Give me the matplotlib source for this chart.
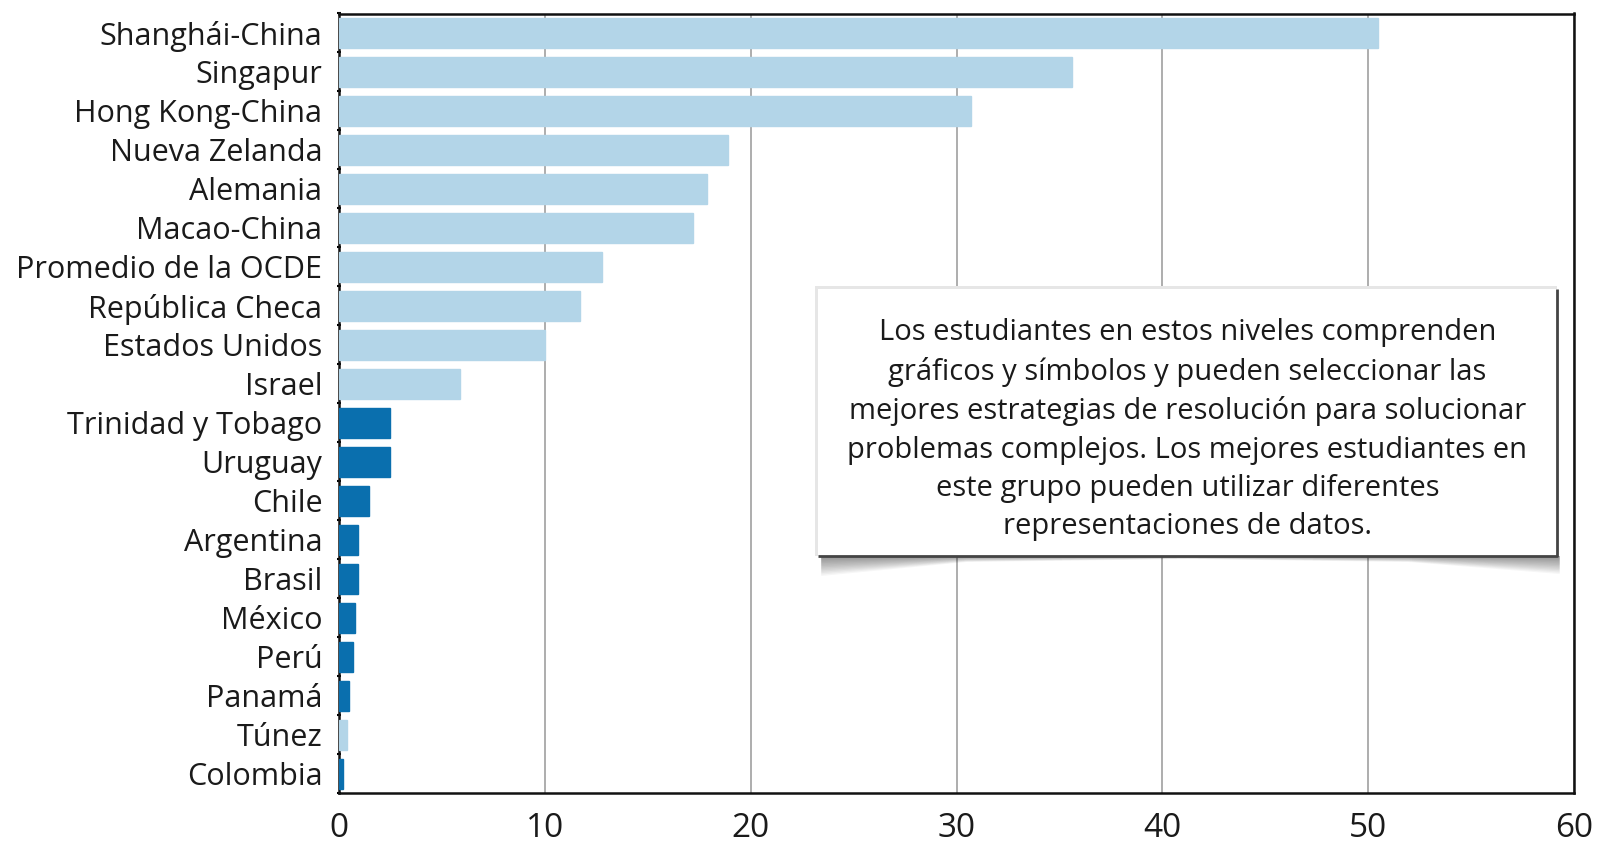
import matplotlib.pyplot as plt
import numpy as np
from matplotlib.patches import Rectangle, Polygon

plt.rcParams['font.family'] = ['Open Sans', 'DejaVu Sans']

paises = ['Shanghái-China', 'Singapur', 'Hong Kong-China', 'Nueva Zelanda', 'Alemania',
          'Macao-China', 'Promedio de la OCDE', 'República Checa', 'Estados Unidos', 'Israel',
          'Trinidad y Tobago', 'Uruguay', 'Chile', 'Argentina', 'Brasil', 'México', 'Perú',
          'Panamá', 'Túnez', 'Colombia']
valores = [50.5, 35.6, 30.7, 18.9, 17.9, 17.2, 12.8, 11.7, 10.0, 5.9,
           2.5, 2.5, 1.45, 0.9, 0.9, 0.8, 0.7, 0.5, 0.4, 0.18]
# True = country in the highlighted (dark blue) group
destacado = [False] * 10 + [True] * 8 + [False, True]
xticks = [0, 10, 20, 30, 40, 50, 60]

texto = ("Los estudiantes en estos niveles comprenden\n"
         "gráficos y símbolos y pueden seleccionar las\n"
         "mejores estrategias de resolución para solucionar\n"
         "problemas complejos. Los mejores estudiantes en\n"
         "este grupo pueden utilizar diferentes\n"
         "representaciones de datos.")

claro = '#b3d5e8'
oscuro = '#0a6fae'

fig = plt.figure(figsize=(15.97, 8.52), dpi=100)
ax = fig.add_axes([339 / 1597, 1 - 793 / 852, 1235 / 1597, 779.5 / 852])

y = np.arange(len(paises))
colores = [oscuro if d else claro for d in destacado]
ax.barh(y, valores, height=0.77, color=colores, edgecolor=colores, linewidth=1, zorder=3)

ax.set_ylim(len(paises) - 0.5, -0.5)
ax.set_xlim(0, 60)
ax.set_yticks(y)
ax.set_yticklabels(paises, fontsize=22, color='#1a1a1a')
ax.set_yticks(np.arange(len(paises) + 1) - 0.5, minor=True)
ax.set_xticks(xticks)
ax.set_xticklabels([str(v) for v in xticks], fontsize=24, color='#1a1a1a')
ax.tick_params(axis='y', which='major', length=0, pad=12)
ax.tick_params(axis='y', which='minor', length=3, width=1.5, direction='inout', color='black')
ax.tick_params(axis='x', length=0, pad=14)

ax.grid(axis='x', color='#a0a0a0', linewidth=1.2, zorder=0)
ax.set_axisbelow(True)
for s in ax.spines.values():
    s.set_linewidth(1.8)
    s.set_color('#111111')

# callout box with curled drop shadow
x0, x1 = 0.388, 0.986
y0, y1 = 0.304, 0.6466
sx = 1 / 1235
sy = 1 / 779.5
n = 14
for k in range(n):
    f = 1 - k / n
    dl = 20 * f * sy
    dm = 3 * f * sy
    dr = 18 * f * sy
    pts = [(x0 + 3 * sx, y0), (x0 + 3 * sx, y0 - dl),
           (x0 + 0.12, y0 - dm * 2), ((x0 + x1) / 2, y0 - dm),
           (x1 - 0.12, y0 - dm * 2), (x1 + 3 * sx, y0 - dr), (x1 + 3 * sx, y0)]
    ax.add_patch(Polygon(pts, closed=True, transform=ax.transAxes, facecolor='black',
                         edgecolor='none', alpha=0.035, zorder=4, clip_on=False))
ax.add_patch(Rectangle((x0 - 3 * sx, y0), (x1 - x0) + 3 * sx, (y1 - y0) + 3 * sy,
                       transform=ax.transAxes, facecolor='#e6e6e6', edgecolor='none',
                       zorder=4.5, clip_on=False))
ax.add_patch(Rectangle((x0, y0), x1 - x0, y1 - y0, transform=ax.transAxes,
                       facecolor='white', edgecolor='none', zorder=5, clip_on=False))
ax.plot([x0, x1, x1], [y0, y0, y1], transform=ax.transAxes, color='#444444',
        linewidth=2, zorder=6, clip_on=False, solid_capstyle='butt')

ax.text((x0 + x1) / 2, (y0 + y1) / 2 - 0.009, texto, transform=ax.transAxes,
        ha='center', va='center', fontsize=21, linespacing=1.42, color='#1a1a1a',
        zorder=7)

fig.savefig('out.png', dpi=100)
